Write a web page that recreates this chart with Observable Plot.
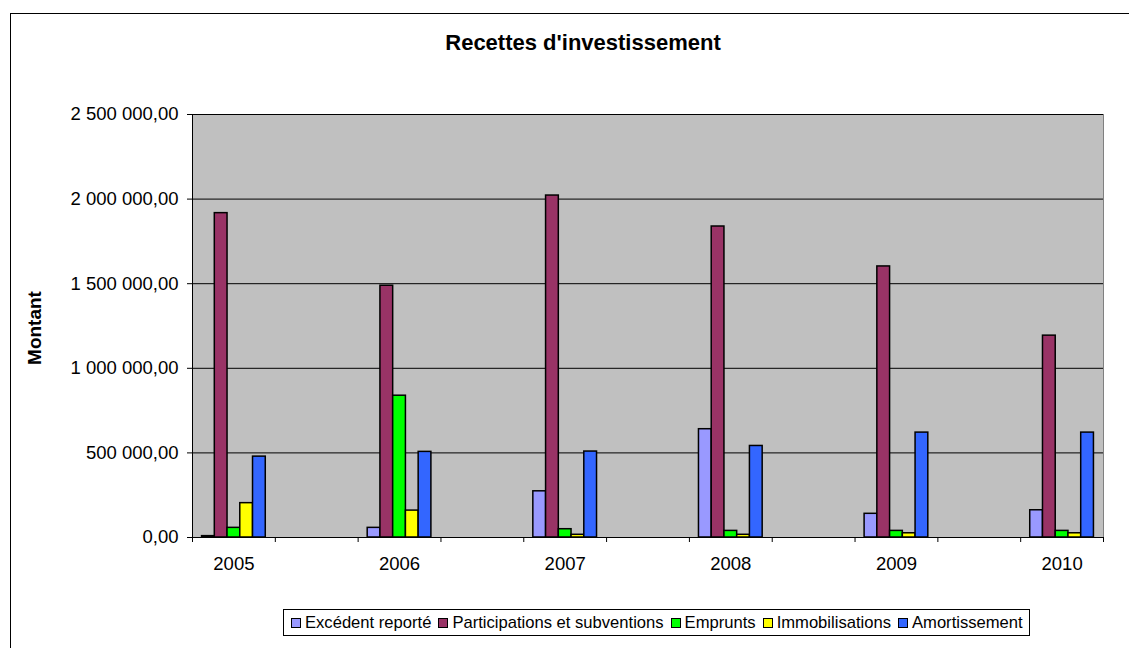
<!DOCTYPE html>
<html><head><meta charset="utf-8">
<script src="https://cdn.jsdelivr.net/npm/d3@7"></script>
<script src="https://cdn.jsdelivr.net/npm/@observablehq/plot@0.6"></script>
<style>
html,body{margin:0;padding:0;background:#fff;width:1129px;height:648px;overflow:hidden;font-family:"Liberation Sans",Arial,sans-serif;color:#000;}
#chart{position:relative;width:1129px;height:648px;overflow:hidden;}
#border{position:absolute;left:10px;top:13px;width:1200px;height:700px;border:1px solid #000;}
#title{position:absolute;left:10px;width:1146px;top:30px;text-align:center;font-weight:bold;font-size:22px;}
#plot{position:absolute;left:0;top:0;}
#ylabel{position:absolute;left:35px;top:328px;transform:translate(-50%,-50%) rotate(-90deg);font-weight:bold;font-size:19px;white-space:nowrap;}
#legend{position:absolute;left:283px;top:609px;height:27px;border:1px solid #000;background:#fff;display:flex;align-items:center;padding:0 6px 0 7px;font-size:16.6px;white-space:nowrap;box-sizing:border-box;}
.item{display:flex;align-items:center;margin-right:7px;}
.item:last-child{margin-right:0;}
.sw{width:8px;height:8px;border:1px solid #000;margin-right:4px;}
</style>
</head><body>
<div id="chart">
  <div id="border"></div>
  <div id="title">Recettes d'investissement</div>
  <div id="plot"></div>
  <div id="ylabel">Montant</div>
  <div id="legend"></div>
</div>
<script>
const years = ["2005", "2006", "2007", "2008", "2009", "2010"];
const seriesNames = ["Excédent reporté", "Participations et subventions", "Emprunts", "Immobilisations", "Amortissement"];
const seriesColors = ["#9999FF", "#993366", "#00FF00", "#FFFF00", "#3366FF"];
const excedent = [8000, 57000, 273000, 640000, 140000, 161000];
const participations = [1917000, 1488000, 2021000, 1838000, 1602000, 1193000];
const emprunts = [57000, 838000, 49000, 39000, 39000, 39000];
const immobilisations = [203000, 159000, 16000, 16000, 25000, 25000];
const amortissement = [478000, 506000, 508000, 541000, 620000, 620000];
const yTicks = [0, 500000, 1000000, 1500000, 2000000, 2500000];

const seriesValues = [excedent, participations, emprunts, immobilisations, amortissement];
// Excel-like layout: each year occupies a category slot, with an empty slot between years; gap width 150%
const nSlots = years.length * 2 - 1;
const gapWidth = 1.5;
const groupUnits = seriesNames.length + gapWidth;
const rows = [];
years.forEach((yr, i) => {
  seriesNames.forEach((s, j) => {
    const slot = 2 * i;
    const x1 = slot + (gapWidth / 2 + j) / groupUnits;
    rows.push({year: yr, series: s, value: seriesValues[j][i], x1, x2: x1 + 1 / groupUnits});
  });
});

const fr = d3.formatLocale({decimal: ",", thousands: " ", grouping: [3], currency: ["", " €"]});
const fmt = fr.format(",.2f");

const plot = Plot.plot({
  width: 1129,
  height: 590,
  marginLeft: 192,
  marginRight: 26,
  marginTop: 114,
  marginBottom: 53,
  style: {fontFamily: '"Liberation Sans", Arial, sans-serif', fontSize: "18px", color: "#000", background: "transparent"},
  x: {type: "linear", domain: [0, nSlots], axis: null},
  y: {domain: [0, 2500000], axis: null},
  color: {domain: seriesNames, range: seriesColors},
  marks: [
    Plot.frame({fill: "#C0C0C0", stroke: "#808080"}),
    Plot.gridY(yTicks, {stroke: "#000", strokeOpacity: 1, strokeWidth: 1}),
    Plot.rect(rows, {x1: "x1", x2: "x2", y1: 0, y2: "value", fill: "series", stroke: "#000", strokeWidth: 1.5}),
    Plot.ruleY([0], {stroke: "#000", strokeWidth: 1}),
    Plot.ruleX([0], {stroke: "#000", strokeWidth: 1}),
    Plot.axisY({ticks: yTicks, tickFormat: fmt, tickSize: 5, tickPadding: 9, label: null, fontSize: 18.5}),
    Plot.axisX({ticks: d3.range(0, nSlots + 1), tickFormat: () => "", tickSize: 5, label: null}),
    Plot.axisX({ticks: years.map((y, i) => 2 * i + 0.5), tickFormat: (d) => years[Math.round((d - 0.5) / 2)], tickSize: 0, tickPadding: 19, label: null, fontSize: 18.5})
  ]
});
document.getElementById("plot").appendChild(plot);

const legend = document.getElementById("legend");
seriesNames.forEach((s, j) => {
  const it = document.createElement("div");
  it.className = "item";
  const sw = document.createElement("div");
  sw.className = "sw";
  sw.style.background = seriesColors[j];
  const t = document.createElement("span");
  t.textContent = s;
  it.appendChild(sw);
  it.appendChild(t);
  legend.appendChild(it);
});
</script>
</body></html>
